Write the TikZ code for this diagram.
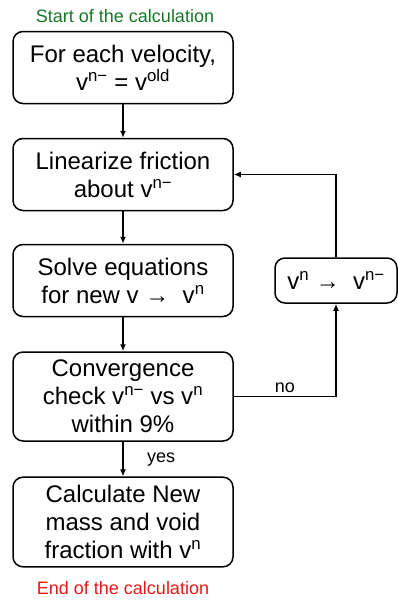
\documentclass[tikz,border=0pt]{standalone}
\usepackage{fontspec}
\setmainfont{Liberation Sans}
\usepackage{tikz}
\usetikzlibrary{arrows.meta}
\definecolor{startgreen}{RGB}{22,120,38}
\definecolor{endred}{RGB}{236,22,22}
\newcommand{\vsup}[1]{v\textsuperscript{#1}}

\begin{document}
\begin{tikzpicture}[x=1pt,y=1pt,
    box/.style={draw,line width=1.5pt,rounded corners=10pt,minimum width=220pt,
      minimum height=72pt,inner sep=8pt,align=center,font=\fontsize{24}{28}\selectfont},
    flow/.style={line width=1.4pt,-{Latex[length=7pt,width=6pt]}},
    lbl/.style={font=\fontsize{18}{20}\selectfont}]
    \useasboundingbox (0,0) rectangle (398,-600);
    \node[lbl,text=startgreen] (start) at (125,-16) {Start of the calculation};
    \node[box] (init) at (123,-67.5) {For each velocity,\\ \vsup{n−} = \vsup{old}};
    \node[box] (lin) at (123,-174.5) {Linearize friction\\ about \vsup{n−}};
    \node[box] (solve) at (123,-280.5) {Solve equations\\ for new v → \ \vsup{n}};
    \node[box] (conv) at (123,-396.5) {Convergence\\ check \vsup{n−} vs \vsup{n}\\ within 9\%};
    \node[box] (calc) at (123,-522) {Calculate New\\ mass and void\\ fraction with \vsup{n}};
    \node[lbl,text=endred] (end) at (123,-588) {End of the calculation};
    \node[box,minimum width=122pt,minimum height=45pt] (upd) at (336,-280.5) {\vsup{n} → \ \vsup{n−}};
    \draw[flow] (init) -- (lin);
    \draw[flow] (lin) -- (solve);
    \draw[flow] (solve) -- (conv);
    \draw[flow] (conv) -- node[lbl,right,xshift=20pt] {yes} (calc);
    \draw[flow] (conv.east) -| node[lbl,pos=0.25,above] {no} (upd.south);
    \draw[flow] (upd.north) |- (lin.east);
  \end{tikzpicture}
\end{document}
